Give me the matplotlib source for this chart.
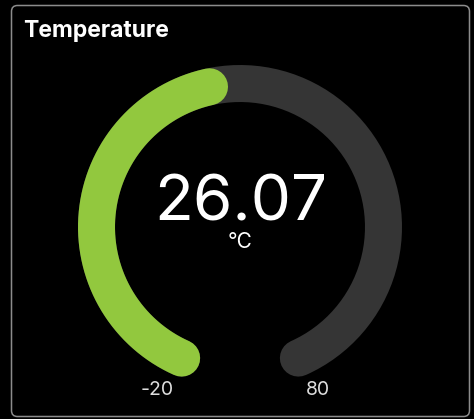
import numpy as np
import matplotlib.pyplot as plt
from matplotlib.patches import FancyBboxPatch

title = "Temperature"
value = 26.07
unit = "°C"
vmin = -20
vmax = 80

W, H = 474, 419
fig = plt.figure(figsize=(W / 100, H / 100), dpi=100, facecolor="black")
ax = fig.add_axes([0, 0, 1, 1])
ax.set_xlim(0, W)
ax.set_ylim(H, 0)
ax.axis("off")
ax.set_facecolor("black")

# card
card = FancyBboxPatch((11.5, 5.5), 458, 411, boxstyle="round,pad=0,rounding_size=6",
                      facecolor="black", edgecolor="#8c8c8c", linewidth=1.1)
ax.add_patch(card)

# gauge geometry (pixels)
cx, cy = 240, 227
r = 143.5
thick = 37
gap = 24  # degrees each side of bottom
sweep = 360 - 2 * gap


def arc(v0, v1):
    f0 = (v0 - vmin) / (vmax - vmin)
    f1 = (v1 - vmin) / (vmax - vmin)
    a = np.radians(90 + gap + np.linspace(f0, f1, 200) * sweep)
    x = cx - r * np.sin(a - np.pi / 2)
    y = cy + r * np.cos(a - np.pi / 2)
    return x, y


lw = thick * 72 / 100
x, y = arc(vmin, vmax)
ax.plot(x, y, color="#353535", lw=lw, solid_capstyle="round")
x, y = arc(vmin, value)
ax.plot(x, y, color="#92c83e", lw=lw, solid_capstyle="round")

font = ["Inter", "DejaVu Sans"]
ax.text(23, 37, title, color="white", fontsize=16.5, fontweight="bold",
        family=font, ha="left", va="baseline")
ax.text(cx + 1, 220, f"{value:.2f}", color="white", fontsize=46,
        family=font, ha="center", va="baseline")
ax.text(cx, 248, unit, color="white", fontsize=15,
        family=font, ha="center", va="baseline")
ax.text(157, 395, str(vmin), color="#dddddd", fontsize=14,
        family=font, ha="center", va="baseline")
ax.text(318, 395, str(vmax), color="#dddddd", fontsize=14,
        family=font, ha="center", va="baseline")

fig.savefig("out.png", dpi=100, facecolor="black")
